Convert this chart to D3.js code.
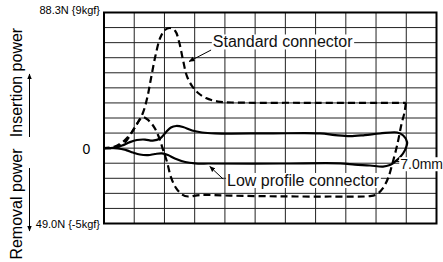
<!DOCTYPE html>
<html>
<head>
<meta charset="utf-8">
<script src="https://cdn.jsdelivr.net/npm/d3@7"></script>
<style>
  body { margin: 0; background: #fff; }
  svg { display: block; font-family: "Liberation Sans", Arial, sans-serif; }
</style>
</head>
<body>
<div id="chart"></div>
<script>
// stroke (mm) vs force (kgf)
const xGrid = [0, 0.7, 1.4, 2.1, 2.8, 3.5, 4.2, 4.9, 5.6, 6.3, 7.0, 7.7];
const yGrid = [-5, -4, -3, -2, -1, 0, 1, 2, 3, 4, 5, 6, 7, 8, 9];
const yTopLabel = "88.3N {9kgf}";
const yBottomLabel = "49.0N {-5kgf}";

const standardInsertion = [
  [0, 0], [0.28, 0.04], [0.49, 0.40], [0.65, 1.07], [0.79, 1.73], [0.90, 2.33],
  [1.00, 3.32], [1.09, 4.65], [1.19, 6.11], [1.30, 7.31], [1.41, 7.84], [1.53, 7.97],
  [1.65, 7.77], [1.74, 7.04], [1.83, 5.84], [1.92, 4.78], [2.04, 4.12], [2.18, 3.66],
  [2.36, 3.32], [2.64, 3.09], [2.96, 3.03], [4.54, 3.01], [6.99, 3.01]
];
const standardReturn = [
  [6.99, 3.01], [6.96, 2.39], [6.89, 1.60], [6.79, 0.21], [6.67, -1.12], [6.58, -1.98],
  [6.46, -2.65], [6.32, -3.05], [6.16, -3.18], [5.23, -3.21], [4.08, -3.20], [2.92, -3.15],
  [2.22, -3.11], [1.95, -3.21], [1.81, -3.08], [1.67, -2.65], [1.55, -1.92], [1.46, -0.92],
  [1.37, -0.13], [1.27, 0.74], [1.16, 1.40], [1.02, 1.87], [0.90, 2.06], [0.76, 1.60],
  [0.63, 1.00], [0.46, 0.47], [0.25, 0.11], [0, 0]
];
const lowInsertion = [
  [0, 0], [0.25, 0.04], [0.42, 0.17], [0.60, 0.40], [0.76, 0.54], [0.95, 0.57],
  [1.13, 0.50], [1.30, 0.64], [1.44, 1.07], [1.55, 1.37], [1.67, 1.47], [1.83, 1.40],
  [2.04, 1.17], [2.27, 1.04], [2.57, 0.98], [3.84, 0.98], [5.00, 0.98], [5.35, 0.87],
  [5.70, 0.80], [6.04, 0.87], [6.39, 0.97], [6.79, 1.04], [6.93, 0.84], [7.02, 0.40],
  [6.97, -0.13], [6.86, -0.59], [6.70, -0.99]
];
const lowRemoval = [
  [0, 0], [0.32, -0.01], [0.51, -0.13], [0.67, -0.29], [0.83, -0.42], [1.02, -0.46],
  [1.18, -0.39], [1.34, -0.35], [1.48, -0.46], [1.64, -0.69], [1.88, -0.92], [2.11, -1.01],
  [2.45, -1.02], [4.08, -1.02], [5.47, -1.01], [5.81, -1.09], [6.16, -1.15], [6.46, -1.22],
  [6.62, -1.12], [6.70, -0.99]
];

const width = 443, height = 262;
const plot = { left: 104, right: 436.5, top: 12.5, bottom: 223.5 };

const x = d3.scaleLinear().domain([0, 7.7]).range([plot.left, plot.right]);
const y = d3.scaleLinear().domain([-5, 9]).range([plot.bottom, plot.top]);

const svg = d3.select("#chart")
  .append("svg")
    .attr("width", width)
    .attr("height", height);

const defs = svg.append("defs");
defs.append("marker")
    .attr("id", "tip")
    .attr("viewBox", "0 0 10 10")
    .attr("refX", 9).attr("refY", 5)
    .attr("markerWidth", 6).attr("markerHeight", 6)
    .attr("orient", "auto")
  .append("path")
    .attr("d", "M0,1 L10,5 L0,9 z")
    .attr("fill", "#000");

// grid
const grid = svg.append("g").attr("stroke", "#222").attr("stroke-width", 1);
grid.selectAll(".vx")
  .data(xGrid)
  .join("line")
    .attr("x1", d => x(d)).attr("x2", d => x(d))
    .attr("y1", plot.top).attr("y2", plot.bottom);
grid.selectAll(".hy")
  .data(yGrid)
  .join("line")
    .attr("x1", plot.left).attr("x2", plot.right)
    .attr("y1", d => y(d)).attr("y2", d => y(d));

svg.append("rect")
    .attr("x", plot.left).attr("y", plot.top)
    .attr("width", plot.right - plot.left)
    .attr("height", plot.bottom - plot.top)
    .attr("fill", "none")
    .attr("stroke", "#000")
    .attr("stroke-width", 2);

// curves
const line = d3.line()
    .x(d => x(d[0]))
    .y(d => y(d[1]))
    .curve(d3.curveCatmullRom.alpha(0.5));

const curves = svg.append("g")
    .attr("fill", "none")
    .attr("stroke", "#000")
    .attr("stroke-width", 2.2)
    .attr("stroke-linejoin", "round");

curves.append("path").attr("d", line(lowInsertion));
curves.append("path").attr("d", line(lowRemoval));
curves.append("path").attr("d", line(standardInsertion)).attr("stroke-dasharray", "7,4");
curves.append("path").attr("d", line(standardReturn)).attr("stroke-dasharray", "7,4");

// annotations
function label(txt, px, py, size) {
  const g = svg.append("g");
  const bg = g.append("rect").attr("fill", "#fff");
  const t = g.append("text")
      .attr("x", px).attr("y", py)
      .attr("font-size", size)
      .attr("fill", "#111")
      .text(txt);
  const b = t.node().getBBox();
  bg.attr("x", b.x - 1).attr("y", b.y + 1)
    .attr("width", b.width + 2).attr("height", b.height - 2);
  return g;
}

function leader(x1, y1, x2, y2, arrow) {
  const l = svg.append("line")
      .attr("x1", x(x1)).attr("y1", y(y1))
      .attr("x2", x(x2)).attr("y2", y(y2))
      .attr("stroke", "#000")
      .attr("stroke-width", 1);
  if (arrow) l.attr("marker-end", "url(#tip)");
}

leader(2.48, 6.51, 1.97, 5.75, true);
label("Standard connector", x(2.52), y(6.68), 16);

leader(2.76, -2.05, 2.45, -1.22, true);
label("Low profile connector", x(2.85), y(-2.51), 16);

leader(6.73, -0.89, 6.86, -0.89, false);
label("7.0mm", x(6.86), y(-1.4), 14);

// left side labels
svg.append("text")
    .attr("x", 100).attr("y", 14)
    .attr("text-anchor", "end")
    .attr("font-size", 11)
    .text(yTopLabel);

svg.append("text")
    .attr("x", 100).attr("y", 227.5)
    .attr("text-anchor", "end")
    .attr("font-size", 11)
    .text(yBottomLabel);

svg.append("text")
    .attr("x", 86.5).attr("y", y(0) + 6)
    .attr("text-anchor", "middle")
    .attr("font-size", 14)
    .text("0");

svg.append("text")
    .attr("transform", "translate(22,82.5) rotate(-90)")
    .attr("text-anchor", "middle")
    .attr("font-size", 16)
    .text("Insertion power");

svg.append("text")
    .attr("transform", "translate(22,204) rotate(-90)")
    .attr("text-anchor", "middle")
    .attr("font-size", 16)
    .text("Removal power");

svg.append("line")
    .attr("x1", 29.5).attr("y1", 137)
    .attr("x2", 29.5).attr("y2", 74)
    .attr("stroke", "#000").attr("stroke-width", 1)
    .attr("marker-end", "url(#tip)");

svg.append("line")
    .attr("x1", 29.5).attr("y1", 168)
    .attr("x2", 29.5).attr("y2", 231)
    .attr("stroke", "#000").attr("stroke-width", 1)
    .attr("marker-end", "url(#tip)");
</script>
</body>
</html>
